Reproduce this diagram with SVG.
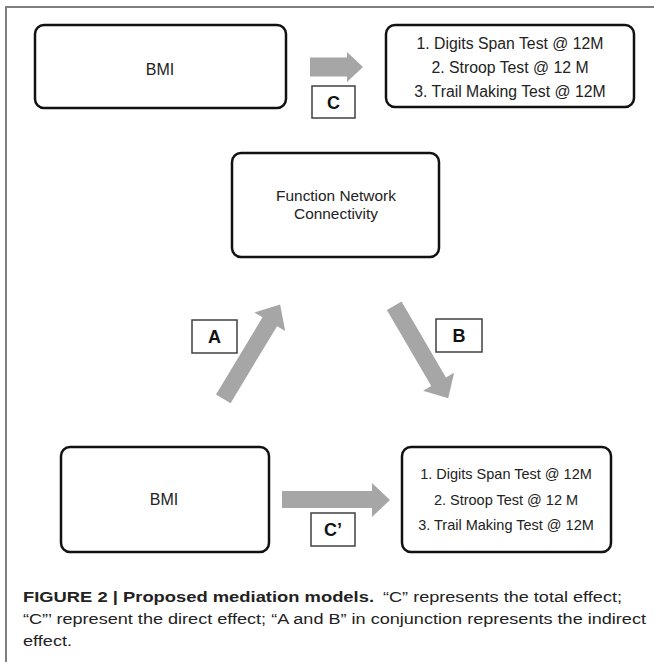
<svg xmlns="http://www.w3.org/2000/svg" width="654" height="662" viewBox="0 0 654 662">
<style>
.node{fill:#fff;stroke:#111;stroke-width:2.5}
.lbl{fill:#fff;stroke:#404040;stroke-width:1.5}
.t{font-family:"Liberation Sans",Arial,sans-serif;fill:#222;text-anchor:middle}
.lt{font-family:"Liberation Sans",Arial,sans-serif;fill:#111;font-weight:bold;font-size:18px;text-anchor:middle}
.arrow{fill:#a6a6a6}
.cap{font-family:"Liberation Sans",Arial,sans-serif;fill:#222;font-size:15.5px}
</style>
<rect width="654" height="662" fill="#fff"/>
<path d="M6,662 V7 H654" fill="none" stroke="#7f7f7f" stroke-width="2"/>
<g id="connectors">
<path class="arrow" d="M310,57.5 H347 V52 L363,67 L347,82 V76.5 H310 Z"/>
<path class="arrow" d="M282,491 H372 V483 L390,500 L372,517 V508 H282 Z"/>
<path class="arrow" transform="translate(223.3,398.8) rotate(-58.9)" d="M0,-8.5 H90 V-18 L110,0 L90,18 V8.5 H0 Z"/>
<path class="arrow" transform="translate(394.2,305.8) rotate(59.7)" d="M0,-8.5 H88 V-18 L107,0 L88,18 V8.5 H0 Z"/>
</g>
<g id="bmi-top">
<rect class="node" x="35" y="25" width="251" height="83" rx="9"/>
<text class="t" x="160" y="75" font-size="16">BMI</text>
</g>
<g id="tests-top">
<rect class="node" x="386" y="25" width="248" height="82" rx="9"/>
<text class="t" x="510" y="49" font-size="15.8">1. Digits Span Test @ 12M</text>
<text class="t" x="510" y="73" font-size="15.8">2. Stroop Test @ 12 M</text>
<text class="t" x="510" y="97" font-size="15.8">3. Trail Making Test @ 12M</text>
</g>
<g id="fnc">
<rect class="node" x="232" y="153" width="207" height="104" rx="9"/>
<text class="t" x="336" y="200.5" font-size="15.4">Function Network</text>
<text class="t" x="336" y="218.5" font-size="15.4">Connectivity</text>
</g>
<g id="bmi-bottom">
<rect class="node" x="61" y="447" width="208" height="105" rx="9"/>
<text class="t" x="164" y="505" font-size="16">BMI</text>
</g>
<g id="tests-bottom">
<rect class="node" x="402" y="447" width="209" height="105" rx="9"/>
<text class="t" x="506" y="479" font-size="14.5">1. Digits Span Test @ 12M</text>
<text class="t" x="506" y="505" font-size="14.5">2. Stroop Test @ 12 M</text>
<text class="t" x="506" y="530" font-size="14.5">3. Trail Making Test @ 12M</text>
</g>
<g id="label-c">
<rect class="lbl" x="312" y="86" width="43" height="32"/>
<text class="lt" x="333.5" y="109">C</text>
</g>
<g id="label-a">
<rect class="lbl" x="192" y="320" width="45" height="33"/>
<text class="lt" x="214.5" y="343">A</text>
</g>
<g id="label-b">
<rect class="lbl" x="436" y="319" width="46" height="33"/>
<text class="lt" x="459" y="342">B</text>
</g>
<g id="label-cprime">
<rect class="lbl" x="311" y="513" width="44" height="33"/>
<text class="lt" x="333" y="536">C’</text>
</g>
<g id="caption">
<text class="cap" x="23" y="602" font-weight="bold" textLength="351" lengthAdjust="spacingAndGlyphs">FIGURE 2 | Proposed mediation models.</text>
<text class="cap" x="383" y="602" textLength="239" lengthAdjust="spacingAndGlyphs">“C” represents the total effect;</text>
<text class="cap" x="23" y="624" textLength="623" lengthAdjust="spacingAndGlyphs">“C”’ represent the direct effect; “A and B” in conjunction represents the indirect</text>
<text class="cap" x="23" y="646" textLength="49" lengthAdjust="spacingAndGlyphs">effect.</text>
</g>
</svg>
